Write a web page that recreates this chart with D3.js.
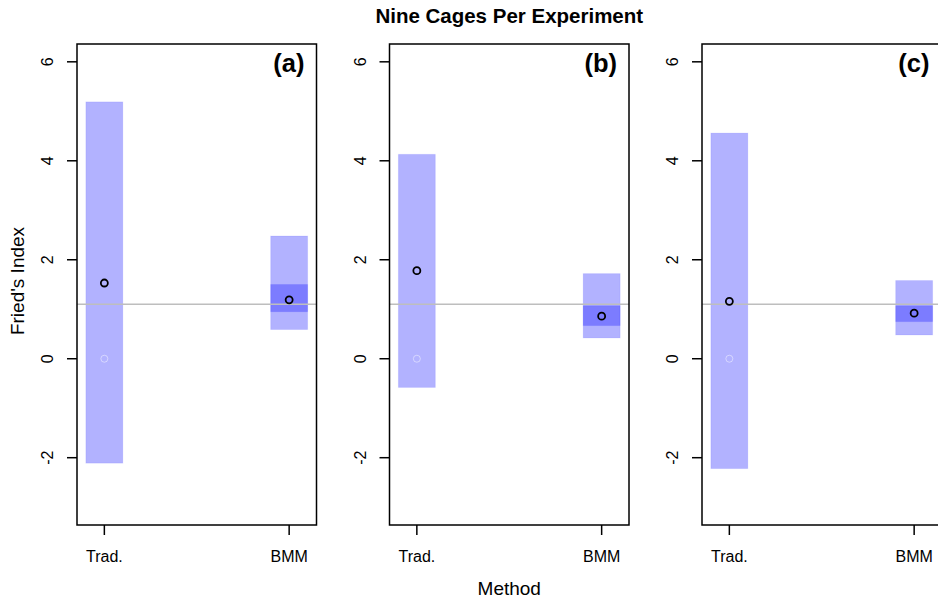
<!DOCTYPE html>
<html>
<head>
<meta charset="utf-8">
<script src="https://cdn.jsdelivr.net/npm/d3@7"></script>
<style>
  body { margin: 0; background: #fff; }
  svg { display: block; font-family: "Liberation Sans", Arial, sans-serif; }
</style>
</head>
<body>
<svg id="chart" width="938" height="601"></svg>
<script>
// Data
const panelLabels = ["(a)", "(b)", "(c)"];
const methods = ["Trad.", "BMM"];
const yTicks = [-2, 0, 2, 4, 6];
// outer interval per panel: [Trad., BMM]
const outerLow  = [[-2.11, 0.59], [-0.58, 0.42], [-2.22, 0.48]];
const outerHigh = [[5.19, 2.48], [4.13, 1.72], [4.56, 1.58]];
// inner interval (BMM only)
const innerLow  = [[null, 0.95], [null, 0.67], [null, 0.75]];
const innerHigh = [[null, 1.50], [null, 1.07], [null, 1.07]];
// point estimates
const estimates = [[1.53, 1.19], [1.78, 0.86], [1.16, 0.92]];
// faint reference point for Trad.
const naivePoint = [0, 0, 0];
// true value (gray line)
const trueValue = [1.1, 1.1, 1.1];

const plotTop = 44, plotBottom = 525;
const panelW = 239.5;
const svg = d3.select("#chart");

const panelX = d3.scaleLinear().domain([0, 1]).range([77, 389.5]);
const x = d3.scaleLinear().domain([0.852, 2.148]).range([0, panelW]);
const y = d3.scaleLinear().domain([-3.36, 6.36]).range([plotBottom, plotTop]);
const halfW = 0.1;

// title
svg.append("text")
    .attr("x", panelX(1) + panelW / 2)
    .attr("y", 23)
    .attr("text-anchor", "middle")
    .style("font-size", "20.5px")
    .style("font-weight", "bold")
    .text("Nine Cages Per Experiment");

// axis titles
svg.append("text")
    .attr("transform", `translate(24, 281) rotate(-90)`)
    .attr("text-anchor", "middle")
    .style("font-size", "19px")
    .text("Fried's Index");

svg.append("text")
    .attr("x", panelX(1) + panelW / 2)
    .attr("y", 595)
    .attr("text-anchor", "middle")
    .style("font-size", "19px")
    .text("Method");

panelLabels.forEach((lab, i) => {
    const g = svg.append("g").attr("transform", `translate(${panelX(i)},0)`);

    // outer bars (+ inner band for BMM)
    methods.forEach((m, j) => {
        g.append("rect")
            .attr("x", x(j + 1 - halfW))
            .attr("width", x(j + 1 + halfW) - x(j + 1 - halfW))
            .attr("y", y(outerHigh[i][j]))
            .attr("height", y(outerLow[i][j]) - y(outerHigh[i][j]))
            .attr("fill", "rgb(0,0,255)")
            .attr("fill-opacity", 0.3)
            .attr("stroke", "rgba(0,0,255,0.08)")
            .attr("stroke-width", 1);
        if (innerLow[i][j] != null) {
            g.append("rect")
                .attr("x", x(j + 1 - halfW))
                .attr("width", x(j + 1 + halfW) - x(j + 1 - halfW))
                .attr("y", y(innerHigh[i][j]))
                .attr("height", y(innerLow[i][j]) - y(innerHigh[i][j]))
                .attr("fill", "rgb(0,0,255)")
                .attr("fill-opacity", 0.3)
                .attr("stroke", "rgba(0,0,255,0.08)")
                .attr("stroke-width", 1);
        }
    });

    // true value line
    g.append("line")
        .attr("x1", 0).attr("x2", panelW)
        .attr("y1", y(trueValue[i])).attr("y2", y(trueValue[i]))
        .attr("stroke", "#bebebe")
        .attr("stroke-width", 1.5);

    // faint point
    g.append("circle")
        .attr("cx", x(1))
        .attr("cy", y(naivePoint[i]))
        .attr("r", 3.5)
        .attr("fill", "none")
        .attr("stroke", "rgba(255,255,255,0.45)")
        .attr("stroke-width", 1);

    // estimates
    g.selectAll("circle.est")
        .data(estimates[i])
        .enter()
        .append("circle")
        .attr("class", "est")
        .attr("cx", (d, j) => x(j + 1))
        .attr("cy", d => y(d))
        .attr("r", 3.5)
        .attr("fill", "none")
        .attr("stroke", "#000")
        .attr("stroke-width", 1.8);

    // frame
    g.append("rect")
        .attr("x", 0).attr("y", plotTop)
        .attr("width", panelW).attr("height", plotBottom - plotTop)
        .attr("fill", "none")
        .attr("stroke", "#000")
        .attr("stroke-width", 1.5);

    // y ticks
    yTicks.forEach(t => {
        g.append("line")
            .attr("x1", -10).attr("x2", 0)
            .attr("y1", y(t)).attr("y2", y(t))
            .attr("stroke", "#000").attr("stroke-width", 1.5);
        g.append("text")
            .attr("transform", `translate(-24,${y(t)}) rotate(-90)`)
            .attr("text-anchor", "middle")
            .style("font-size", "16px")
            .text(t);
    });

    // x ticks
    methods.forEach((m, j) => {
        g.append("line")
            .attr("x1", x(j + 1)).attr("x2", x(j + 1))
            .attr("y1", plotBottom).attr("y2", plotBottom + 10)
            .attr("stroke", "#000").attr("stroke-width", 1.5);
        g.append("text")
            .attr("x", x(j + 1))
            .attr("y", plotBottom + 36.5)
            .attr("text-anchor", "middle")
            .style("font-size", "16px")
            .text(m);
    });

    // panel label
    g.append("text")
        .attr("x", panelW - 12)
        .attr("y", 72)
        .attr("text-anchor", "end")
        .style("font-size", "25.5px")
        .style("font-weight", "bold")
        .text(lab);
});
</script>
</body>
</html>
